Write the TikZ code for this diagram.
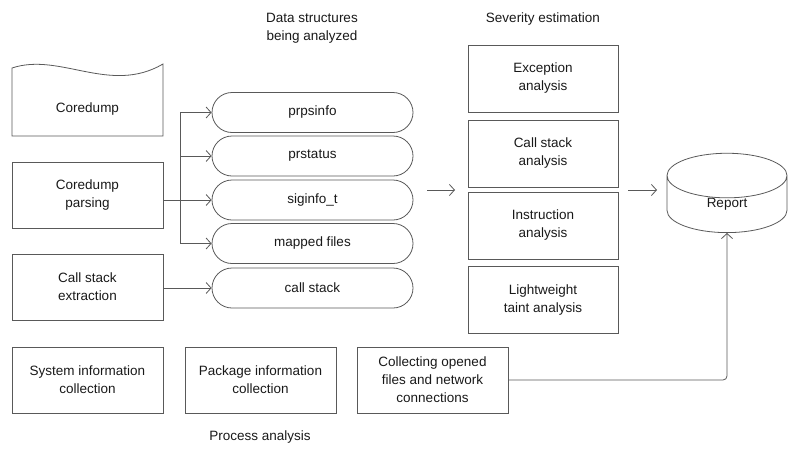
\documentclass[tikz,border=0pt]{standalone}
\usepackage{fontspec}
\setmainfont{Liberation Sans}
\usetikzlibrary{arrows.meta,shapes.misc,shapes.geometric}
\tikzset{
    box/.style={draw=black!65, line width=0.8pt, minimum width=151pt, minimum height=66pt, align=center, inner sep=2pt},
    sevbox/.style={box, minimum width=150pt, minimum height=67pt},
    pill/.style={draw=black!65, line width=0.8pt, rounded rectangle, minimum width=205pt, minimum height=40pt, inner sep=2pt},
    arr/.style={draw=black!65, line width=0.8pt, -{Straight Barb[length=5pt,width=11pt]}},
    title/.style={align=center}
}
\begin{document}
\begin{tikzpicture}[x=1pt, y=-1pt, every node/.style={font=\fontsize{13.5}{18}\selectfont, text=black!90}]
    \useasboundingbox (0,0) rectangle (800,450);

    % Headings
    \node[title] (dstitle) at (312,28) {Data structures\\being analyzed};
    \node[title] (sevtitle) at (543,19) {Severity estimation};
    \node[title] (proctitle) at (260,437) {Process analysis};

    % Coredump (document shape)
    \draw[draw=black!65, line width=0.8pt] (12,136) -- (12,68) .. controls (60,52) and (110,95) .. (163,64) -- (163,136) -- cycle;
    \node (coredump) at (87.5,109) {Coredump};

    % Left column
    \node[box] (parsing) at (87.5,195) {Coredump\\parsing};
    \node[box] (extract) at (87.5,287) {Call stack\\extraction};

    % Data structures
    \foreach \name/\y/\txt in {prpsinfo/112.5/prpsinfo, prstatus/156/prstatus, siginfo/200/siginfo\_t, mapped/243.5/mapped files, callstack/288/call stack}
        \node[pill] (\name) at (312.5,\y) {\txt};

    % Fork from parsing
    \coordinate (fork) at (180,200);
    \draw[arr] (parsing.east |- siginfo.west) -- (siginfo.west);
    \draw[draw=black!65, line width=0.8pt] (fork |- prpsinfo.west) -- (fork |- mapped.west);
    \foreach \name in {prpsinfo, prstatus, mapped}
        \draw[arr] (fork |- \name.west) -- (\name.west);
    \draw[arr] (extract.east |- callstack.west) -- (callstack.west);

    % Severity estimation
    \node[sevbox] (exception) at (543,78.5) {Exception\\analysis};
    \node[sevbox] (csanalysis) at (543,153.5) {Call stack\\analysis};
    \node[sevbox] (instruction) at (543,225.5) {Instruction\\analysis};
    \node[sevbox] (taint) at (543,300) {Lightweight\\taint analysis};

    % Report
    \node[draw=black!65, line width=0.8pt, cylinder, shape border rotate=90, aspect=1.1,
          minimum width=120pt, minimum height=68pt, inner sep=0pt, anchor=south] (report) at (727,233) {Report};

    % Arrows between groups
    \coordinate (a1) at (427,190);
    \coordinate (a2) at (455,190);
    \coordinate (b1) at (628,190);
    \coordinate (b2) at (657,190);
    \draw[arr] (a1) -- (a2);
    \draw[arr] (b1) -- (b2);

    % Process analysis
    \node[box] (system) at (87.5,380) {System information\\collection};
    \node[box] (package) at (260.5,380) {Package information\\collection};
    \node[box] (collect) at (432.5,380) {Collecting opened\\files and network\\connections};

    \draw[arr, rounded corners=4pt] (collect.east) -| (report.south);
\end{tikzpicture}
\end{document}
